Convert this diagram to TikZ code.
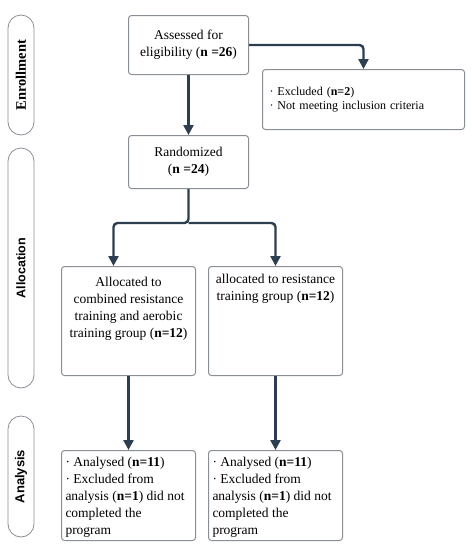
\documentclass[tikz,border=0pt]{standalone}
\usepackage{fontspec}
\setmainfont{Liberation Serif}
\setsansfont{Liberation Sans}
\usetikzlibrary{arrows.meta}
\definecolor{boxgray}{HTML}{8A8F96}
\definecolor{arrowblue}{HTML}{2C3E50}
\tikzset{
  flowbox/.style={draw=boxgray, line width=1pt, rounded corners=3pt, fill=white,
    anchor=north west, inner sep=0pt, font=\fontsize{13.5}{17}\selectfont},
  phase/.style={draw=boxgray, line width=0.8pt, rounded corners=13pt, fill=white,
    rotate=90, minimum height=26pt, inner sep=0pt, font=\sffamily\bfseries\fontsize{13}{15}\selectfont},
  flowarrow/.style={draw=arrowblue, line width=2.4pt, rounded corners=4pt,
    -{Triangle[length=10pt,width=10pt]}}
}

\begin{document}
\begin{tikzpicture}[x=1pt, y=-1pt]
  \useasboundingbox (0,0) rectangle (472,550);
  % phase labels
  \node[phase, minimum width=120pt, font=\rmfamily\bfseries\fontsize{14.5}{16}\selectfont] (enroll) at (21,75) {Enrollment};
  \node[phase, minimum width=240pt, font=\sffamily\bfseries\fontsize{12.5}{15}\selectfont] (alloc) at (21,268) {Allocation};
  \node[phase, minimum width=121pt] (analysis) at (21,476.5) {Analysis};
  % boxes
  \node[flowbox, minimum width=120pt, minimum height=59pt, align=center] (assess) at (128,15)
    {Assessed for\\eligibility (\textbf{n =26})};
  \node[flowbox, minimum width=202pt, minimum height=60pt, inner xsep=7pt, text width=188pt,
    align=left, font=\fontsize{12}{14}\selectfont] (excl) at (262,69)
    {\textperiodcentered\ Excluded (\textbf{n=2})\\\textperiodcentered\ Not meeting inclusion criteria};
  \node[flowbox, minimum width=120pt, minimum height=53pt, align=center] (random) at (128,135)
    {Randomized\\(\textbf{n =24})};
  \node[flowbox] (combined) at (61,266)
    {\parbox[t][109pt][t]{134pt}{\centering\vspace*{11pt}Allocated to\\combined resistance\\training and aerobic\\training group (\textbf{n=12})}};
  \node[flowbox] (resist) at (208,266)
    {\parbox[t][109pt][t]{134pt}{\centering\vspace*{8pt}allocated to resistance\\training group (\textbf{n=12})}};
  \node[flowbox, inner xsep=4pt] (anacomb) at (61,450)
    {\parbox[t][90pt][t]{126pt}{\raggedright\vspace*{7pt}\textperiodcentered\ Analysed (\textbf{n=11})\\\textperiodcentered\ Excluded from\\analysis (\textbf{n=1}) did not\\completed the\\program}};
  \node[flowbox, inner xsep=4pt] (anaresist) at (208,450)
    {\parbox[t][90pt][t]{126pt}{\raggedright\vspace*{7pt}\textperiodcentered\ Analysed (\textbf{n=11})\\\textperiodcentered\ Excluded from\\analysis (\textbf{n=1}) did not\\completed the\\program}};
  % connectors
  \draw[flowarrow] (assess.south) -- (random.north);
  \draw[flowarrow] (assess.east) -| (excl.north);
  \coordinate (split) at ([yshift=-34pt]random.south);
  \draw[flowarrow] (random.south) -- (split) -| ([xshift=-15pt]combined.north);
  \draw[flowarrow] (split) -| (resist.north);
  \draw[flowarrow] (combined.south) -- (anacomb.north);
  \draw[flowarrow] (resist.south) -- (anaresist.north);
\end{tikzpicture}
\end{document}
